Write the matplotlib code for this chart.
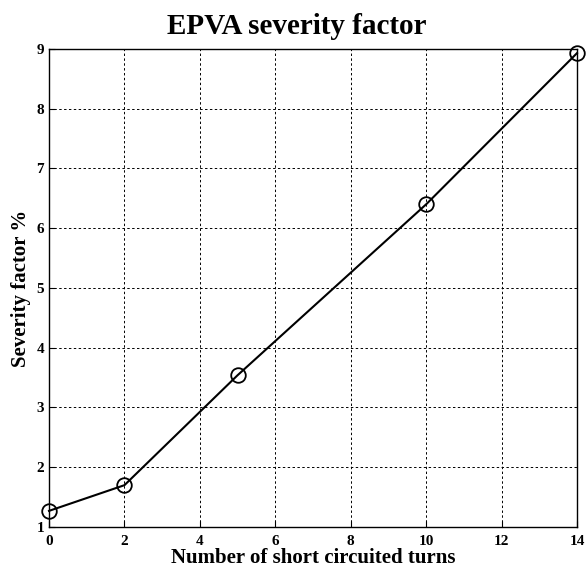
import matplotlib
matplotlib.use('Agg')
import matplotlib.pyplot as plt

turns = [0, 2, 5, 10, 14]
severity = [1.27, 1.70, 3.54, 6.40, 8.93]
x_ticks = [0, 2, 4, 6, 8, 10, 12, 14]
y_ticks = [1, 2, 3, 4, 5, 6, 7, 8, 9]

plt.rcParams['font.family'] = 'Liberation Serif'
plt.rcParams['font.weight'] = 'bold'

fig = plt.figure(figsize=(5.87, 5.69), dpi=100)
ax = fig.add_axes([0.0835, 0.0738, 0.8995, 0.8402])

ax.plot(turns, severity, color='black', linewidth=1.5, marker='o',
        markersize=10.5, markerfacecolor='none', markeredgecolor='black',
        markeredgewidth=1.3, clip_on=False, zorder=5)

ax.set_xlim(0, 14)
ax.set_ylim(1, 9)
ax.set_xticks(x_ticks)
ax.set_yticks(y_ticks)
ax.tick_params(direction='in', length=4, labelsize=11, width=0.8)
ax.tick_params(axis='x', pad=5.5)
for lbl in ax.get_xticklabels() + ax.get_yticklabels():
    lbl.set_fontweight('bold')
ax.grid(True, color='black', linestyle=(0, (2.5, 2.5)), linewidth=0.7)
for s in ax.spines.values():
    s.set_linewidth(1.0)

ax.set_title('EPVA severity factor', fontsize=21, fontweight='bold', pad=11, x=0.47)
ax.set_xlabel('Number of short circuited turns', fontsize=15, fontweight='bold', labelpad=0)
ax.set_ylabel('Severity factor %', fontsize=15, fontweight='bold', labelpad=4)

fig.savefig('out.png', dpi=100)
